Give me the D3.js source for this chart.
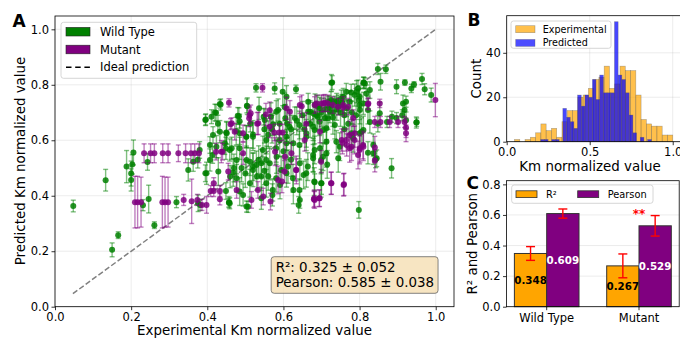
<!DOCTYPE html>
<html>
<head>
<meta charset="utf-8">
<script src="https://cdn.jsdelivr.net/npm/d3@7"></script>
<style>
  body { margin: 0; background: #fff; }
  svg, svg text { font-family: "DejaVu Sans", sans-serif; }
</style>
</head>
<body>
<svg id="fig" width="680" height="339"></svg>
<script>
// ---------- data ----------
// [experimental, predicted, error]
const wildType = [
  [0.048,0.363,0.021],[0.133,0.456,0.039],[0.150,0.205,0.025],[0.166,0.258,0.012],[0.188,0.505,0.058],
  [0.200,0.480,0.045],[0.200,0.457,0.040],[0.203,0.513,0.035],[0.206,0.556,0.045],[0.231,0.366,0.020],
  [0.243,0.522,0.030],[0.246,0.388,0.050],[0.261,0.294,0.012],[0.319,0.377,0.020],[0.350,0.493,0.040],
  [0.363,0.523,0.035],[0.376,0.373,0.030],[0.380,0.565,0.030],[0.375,0.530,0.030],
  [0.395,0.673,0.020],[0.411,0.685,0.025],[0.420,0.700,0.030],[0.428,0.660,0.030],[0.435,0.729,0.020],
  [0.480,0.688,0.030],[0.485,0.669,0.025],[0.504,0.724,0.025],[0.536,0.715,0.040],[0.513,0.660,0.030],
  [0.520,0.621,0.050],[0.548,0.685,0.030],[0.567,0.685,0.050],[0.581,0.703,0.040],[0.603,0.720,0.050],
  [0.665,0.739,0.030],[0.665,0.703,0.040],[0.630,0.680,0.040],[0.616,0.649,0.060],[0.642,0.655,0.050],
  [0.415,0.619,0.030],[0.450,0.628,0.040],[0.476,0.633,0.050],[0.502,0.613,0.040],[0.528,0.789,0.015],
  [0.577,0.787,0.020],[0.598,0.775,0.050],[0.633,0.784,0.015],[0.728,0.808,0.025],[0.848,0.857,0.020],
  [0.869,0.856,0.015],[0.855,0.811,0.030],[0.811,0.808,0.020],[0.897,0.793,0.025],[0.919,0.808,0.010],
  [0.936,0.787,0.015],[0.943,0.801,0.010],[0.964,0.821,0.020],[0.971,0.784,0.020],[0.988,0.763,0.025],
  [0.827,0.781,0.030],[0.822,0.709,0.050],[0.796,0.787,0.030],[0.787,0.763,0.040],[0.778,0.772,0.030],
  [0.800,0.757,0.040],[0.914,0.733,0.030],[0.922,0.739,0.020],[0.918,0.709,0.025],[0.912,0.690,0.020],
  [0.922,0.672,0.030],[0.949,0.664,0.020],[0.897,0.680,0.020],[0.872,0.666,0.020],[0.848,0.660,0.030],
  [0.827,0.666,0.040],[0.765,0.775,0.030],[0.757,0.757,0.030],[0.774,0.739,0.040],[0.683,0.727,0.040],
  [0.696,0.715,0.040],[0.687,0.690,0.050],[0.709,0.680,0.050],[0.722,0.703,0.040],[0.740,0.739,0.030],
  [0.752,0.751,0.030],[0.791,0.690,0.060],[0.800,0.727,0.040],[0.805,0.631,0.050],[0.713,0.643,0.050],
  [0.678,0.649,0.050],[0.395,0.481,0.030],[0.449,0.417,0.030],[0.457,0.375,0.015],[0.414,0.547,0.030],
  [0.449,0.571,0.040],[0.464,0.571,0.040],[0.407,0.583,0.030],[0.429,0.487,0.050],[0.460,0.469,0.040],
  [0.468,0.484,0.050],[0.477,0.463,0.050],[0.485,0.415,0.050],[0.494,0.403,0.040],[0.507,0.360,0.020],
  [0.512,0.445,0.050],[0.520,0.493,0.060],[0.512,0.523,0.050],[0.529,0.511,0.050],[0.542,0.391,0.040],
  [0.555,0.445,0.050],[0.542,0.469,0.050],[0.564,0.517,0.060],[0.571,0.403,0.040],[0.581,0.463,0.050],
  [0.594,0.493,0.050],[0.612,0.505,0.060],[0.625,0.463,0.050],[0.640,0.367,0.030],[0.642,0.421,0.040],
  [0.653,0.475,0.050],[0.664,0.505,0.050],[0.681,0.451,0.050],[0.678,0.547,0.060],[0.485,0.571,0.040],
  [0.503,0.613,0.040],[0.546,0.565,0.050],[0.581,0.571,0.050],[0.608,0.589,0.050],[0.642,0.583,0.050],
  [0.660,0.625,0.050],[0.798,0.349,0.030],[0.884,0.499,0.035],[0.700,0.445,0.040],[0.682,0.449,0.030],
  [0.715,0.513,0.050],[0.822,0.555,0.040],[0.842,0.531,0.030],[0.704,0.541,0.050],[0.678,0.535,0.050],
  [0.696,0.571,0.050],[0.713,0.595,0.050],[0.739,0.595,0.040],[0.783,0.607,0.050],[0.800,0.625,0.050],
  [0.457,0.377,0.020],[0.503,0.361,0.020],[0.396,0.675,0.020],[0.433,0.731,0.015],[0.726,0.807,0.030],
  [0.810,0.807,0.020],[0.423,0.699,0.030],[0.483,0.687,0.030],[0.505,0.723,0.030],[0.551,0.673,0.040],
  [0.573,0.658,0.040],[0.605,0.679,0.050],[0.608,0.757,0.040],[0.586,0.709,0.040],[0.670,0.703,0.040],
  [0.678,0.697,0.040],[0.717,0.739,0.020],[0.726,0.727,0.020],[0.735,0.739,0.020],[0.744,0.733,0.030],
  [0.766,0.715,0.030],[0.690,0.685,0.050],[0.695,0.667,0.050],[0.682,0.637,0.050],[0.704,0.637,0.050],
  [0.717,0.679,0.040],[0.735,0.655,0.050],[0.799,0.745,0.040],[0.810,0.733,0.040],[0.801,0.709,0.050],
  [0.814,0.805,0.020],[0.818,0.769,0.030],[0.792,0.775,0.040],[0.836,0.583,0.040],[0.845,0.535,0.030],
  [0.836,0.553,0.040],[0.853,0.697,0.040],[0.682,0.565,0.050],[0.699,0.529,0.050],[0.713,0.553,0.050],
  [0.643,0.517,0.060],[0.660,0.481,0.050],[0.608,0.481,0.050],[0.582,0.541,0.060],[0.555,0.529,0.050],
  [0.542,0.517,0.050],[0.520,0.505,0.050],[0.503,0.529,0.050],[0.477,0.529,0.050],[0.459,0.565,0.040],
  [0.446,0.589,0.040],[0.424,0.577,0.040],[0.407,0.529,0.040],[0.398,0.481,0.040],[0.381,0.367,0.020],
  [0.459,0.373,0.020],[0.572,0.421,0.040],[0.591,0.439,0.050],[0.626,0.421,0.050],[0.643,0.385,0.030],
  [0.699,0.445,0.050],[0.744,0.535,0.050],[0.748,0.577,0.050],[0.779,0.625,0.050],[0.810,0.637,0.050],
  [0.608,0.613,0.050],[0.626,0.589,0.050],[0.660,0.613,0.050],[0.555,0.601,0.050],[0.520,0.613,0.050],
  [0.485,0.625,0.040],[0.451,0.625,0.040],[0.433,0.631,0.040],[0.885,0.685,0.020],[0.950,0.665,0.015],
  [0.720,0.720,0.040],[0.730,0.700,0.050],[0.740,0.712,0.040],[0.750,0.700,0.050],[0.710,0.712,0.040],
  [0.700,0.700,0.050],[0.690,0.722,0.040],[0.760,0.690,0.050],[0.730,0.682,0.060],[0.745,0.722,0.030],
  [0.725,0.745,0.030],[0.755,0.735,0.030],[0.610,0.660,0.050],[0.620,0.640,0.050],[0.635,0.670,0.050],
  [0.590,0.660,0.050],[0.570,0.640,0.050],[0.560,0.620,0.050],[0.550,0.640,0.050],[0.530,0.470,0.050],
  [0.535,0.530,0.050],[0.550,0.490,0.050],[0.560,0.470,0.050],[0.500,0.480,0.050],[0.490,0.500,0.050],
  [0.470,0.500,0.050],[0.650,0.690,0.050],[0.655,0.640,0.050],[0.670,0.660,0.050],[0.770,0.660,0.050],
  [0.780,0.700,0.040],[0.760,0.640,0.060],[0.590,0.600,0.060],[0.600,0.560,0.060],[0.620,0.530,0.060]
];
const mutant = [
  [0.234,0.553,0.034],[0.251,0.553,0.034],[0.261,0.553,0.034],[0.283,0.553,0.034],[0.297,0.553,0.034],
  [0.324,0.553,0.030],[0.343,0.553,0.034],[0.357,0.553,0.034],[0.367,0.553,0.034],[0.378,0.553,0.034],
  [0.210,0.377,0.093],[0.217,0.377,0.093],[0.226,0.377,0.090],[0.282,0.377,0.093],[0.289,0.377,0.090],
  [0.297,0.377,0.090],[0.338,0.385,0.020],[0.359,0.380,0.080],[0.374,0.385,0.020],[0.386,0.367,0.020],
  [0.545,0.789,0.015],[0.457,0.735,0.015],[0.461,0.658,0.020],[0.511,0.690,0.030],[0.531,0.660,0.040],
  [0.554,0.693,0.040],[0.564,0.708,0.030],[0.608,0.715,0.040],[0.643,0.727,0.030],[0.682,0.727,0.030],
  [0.589,0.628,0.030],[0.576,0.628,0.030],[0.598,0.628,0.030],[0.660,0.660,0.040],[0.999,0.745,0.060],
  [0.822,0.730,0.020],[0.853,0.733,0.015],[0.840,0.666,0.020],[0.855,0.666,0.020],[0.879,0.666,0.020],
  [0.901,0.666,0.020],[0.918,0.666,0.020],[0.922,0.645,0.035],[0.783,0.680,0.030],[0.705,0.733,0.030],
  [0.717,0.733,0.030],[0.730,0.727,0.030],[0.743,0.721,0.030],[0.757,0.717,0.030],[0.770,0.721,0.030],
  [0.787,0.625,0.050],[0.774,0.619,0.050],[0.696,0.631,0.040],[0.398,0.367,0.030],[0.409,0.417,0.020],
  [0.417,0.417,0.020],[0.433,0.417,0.020],[0.433,0.387,0.020],[0.417,0.445,0.020],[0.423,0.559,0.030],
  [0.440,0.559,0.030],[0.455,0.487,0.030],[0.477,0.421,0.030],[0.516,0.385,0.030],[0.533,0.421,0.030],
  [0.566,0.379,0.030],[0.586,0.457,0.050],[0.603,0.487,0.040],[0.633,0.493,0.040],[0.681,0.391,0.030],
  [0.494,0.625,0.030],[0.621,0.553,0.040],[0.656,0.601,0.040],[0.759,0.441,0.040],[0.725,0.445,0.040],
  [0.694,0.391,0.030],[0.680,0.387,0.030],[0.840,0.574,0.040],[0.840,0.526,0.040],[0.796,0.547,0.050],
  [0.800,0.565,0.050],[0.774,0.571,0.050],[0.755,0.591,0.040],[0.765,0.601,0.040],[0.787,0.601,0.050],
  [0.809,0.583,0.050],[0.922,0.625,0.030],[0.464,0.661,0.020],[0.514,0.697,0.030],[0.510,0.679,0.030],
  [0.534,0.661,0.040],[0.564,0.649,0.040],[0.617,0.703,0.040],[0.648,0.723,0.040],[0.687,0.733,0.030],
  [0.700,0.733,0.030],[0.709,0.735,0.030],[0.757,0.727,0.030],[0.753,0.601,0.040],[0.766,0.583,0.040],
  [0.779,0.577,0.050],[0.823,0.733,0.020],[0.801,0.571,0.050],[0.810,0.577,0.050],[0.699,0.523,0.040],
  [0.634,0.493,0.050],[0.604,0.541,0.050],[0.578,0.559,0.050],[0.494,0.553,0.040],[0.437,0.559,0.040],
  [0.547,0.397,0.030],[0.596,0.451,0.040],[0.682,0.385,0.030],[0.695,0.391,0.030],[0.726,0.445,0.040],
  [0.758,0.439,0.040],[0.472,0.631,0.030]
];
const statsText = ["R²: 0.325 ± 0.052", "Pearson: 0.585 ± 0.038"];

// histogram (panel B): bin start, bin width, counts per bin
const expBinStart = 0.047, expBinWidth = 0.03177;
const expCounts = [1,0,1,2,4,8,5,6,2,9,14,14,20,21,24,28,29,34,24,26,34,32,32,21,10,8,7,7,3,3];
const predBinStart = 0.205, predBinWidth = 0.0222;
const predCounts = [1,1,0,1,1,0,15,11,9,6,21,16,21,20,28,19,30,22,22,22,54,30,28,22,12,4,0,2,0,1];

// panel C
const groups = ["Wild Type", "Mutant"];
const metrics = ["R²", "Pearson"];
const metricValues = { "Wild Type": [0.348, 0.609], "Mutant": [0.267, 0.529] };
const metricErrors = { "Wild Type": [0.045, 0.030], "Mutant": [0.078, 0.067] };
const signif = { "Mutant": "**" };

// ---------- helpers ----------
const svg = d3.select("#fig");
const fmt1 = d3.format(".1f");
const FONT = "DejaVu Sans, sans-serif";

function grid(g, xs, ys, xTicks, yTicks) {
  const [x0, x1] = xs.range(), [y0, y1] = ys.range();
  g.selectAll(".gx").data(xTicks).enter().append("line")
    .attr("x1", d => xs(d)).attr("x2", d => xs(d)).attr("y1", y0).attr("y2", y1)
    .style("stroke", "#b0b0b0").style("stroke-opacity", 0.3).style("stroke-width", 0.8);
  g.selectAll(".gy").data(yTicks).enter().append("line")
    .attr("y1", d => ys(d)).attr("y2", d => ys(d)).attr("x1", x0).attr("x2", x1)
    .style("stroke", "#b0b0b0").style("stroke-opacity", 0.3).style("stroke-width", 0.8);
}

function axes(g, xAxis, yAxis, xs, ys) {
  const [x0, x1] = xs.range(), [y0, y1] = ys.range();
  const gx = g.append("g").attr("transform", `translate(0,${y0})`).call(xAxis);
  const gy = g.append("g").attr("transform", `translate(${x0},0)`).call(yAxis);
  [gx, gy].forEach(a => {
    a.attr("font-family", FONT).attr("font-size", 11.5);
    a.select(".domain").remove();
    a.selectAll("text").style("font-family", FONT).style("font-size", "11.5px").style("fill", "#000");
    a.selectAll("line").style("stroke", "#000").style("stroke-width", 0.8);
  });
  g.append("rect").attr("x", x0).attr("y", y1).attr("width", x1 - x0).attr("height", y0 - y1)
    .style("fill", "none").style("stroke", "#000").style("stroke-width", 0.8);
}

function legendBox(g, x, y, w, h) {
  g.append("rect").attr("x", x).attr("y", y).attr("width", w).attr("height", h).attr("rx", 2.5)
    .style("fill", "#fff").style("fill-opacity", 0.8).style("stroke", "#cccccc").style("stroke-width", 0.8);
}

// ---------- panel A: scatter ----------
const xA = d3.scaleLinear().domain([0, 1.048]).range([55, 454]);
const yA = d3.scaleLinear().domain([0, 1.048]).range([306.7, 16]);
const ticksA = [0, 0.2, 0.4, 0.6, 0.8, 1.0];
const gA = svg.append("g");
grid(gA, xA, yA, ticksA, ticksA);

gA.append("line")
  .attr("x1", xA(0.047)).attr("y1", yA(0.047)).attr("x2", xA(1.0)).attr("y2", yA(1.0))
  .style("stroke", "gray").style("stroke-width", 1.5).style("stroke-dasharray", "5.5,2.4");

function drawSeries(data, color) {
  const s = gA.append("g");
  const eb = s.selectAll(".eb").data(data).enter().append("g")
    .style("stroke", color).style("stroke-opacity", 0.5).style("stroke-width", 1.4);
  eb.append("line").attr("x1", d => xA(d[0])).attr("x2", d => xA(d[0]))
    .attr("y1", d => yA(d[1] - d[2])).attr("y2", d => yA(d[1] + d[2]));
  eb.append("line").attr("x1", d => xA(d[0]) - 2.5).attr("x2", d => xA(d[0]) + 2.5)
    .attr("y1", d => yA(d[1] - d[2])).attr("y2", d => yA(d[1] - d[2]));
  eb.append("line").attr("x1", d => xA(d[0]) - 2.5).attr("x2", d => xA(d[0]) + 2.5)
    .attr("y1", d => yA(d[1] + d[2])).attr("y2", d => yA(d[1] + d[2]));
  s.selectAll("circle").data(data).enter().append("circle")
    .attr("cx", d => xA(d[0])).attr("cy", d => yA(d[1])).attr("r", 3)
    .style("fill", color).style("fill-opacity", 0.85);
}
drawSeries(wildType, "green");
drawSeries(mutant, "purple");

axes(gA,
  d3.axisBottom(xA).tickValues(ticksA).tickFormat(fmt1).tickSize(3.5).tickPadding(3),
  d3.axisLeft(yA).tickValues(ticksA).tickFormat(fmt1).tickSize(3.5).tickPadding(2.5),
  xA, yA);

gA.append("text").attr("x", 254.5).attr("y", 335).attr("text-anchor", "middle")
  .style("font-size", "13.4px").text("Experimental Km normalized value");
gA.append("text").attr("transform", "translate(25,161) rotate(-90)").attr("text-anchor", "middle")
  .style("font-size", "13.4px").text("Predicted Km normalized value");

// legend A
legendBox(gA, 61, 22.3, 135.7, 56);
[["Wild Type", "green"], ["Mutant", "purple"]].forEach(([lab, c], i) => {
  const cy = 31.7 + i * 17.8;
  gA.append("rect").attr("x", 66).attr("y", cy - 4.3).attr("width", 24).attr("height", 8.6)
    .style("fill", c).style("stroke", "#222").style("stroke-width", 0.6);
  gA.append("text").attr("x", 100).attr("y", cy + 4.1).style("font-size", "11.5px").text(lab);
});
gA.append("line").attr("x1", 66).attr("x2", 90).attr("y1", 67.3).attr("y2", 67.3)
  .style("stroke", "#000").style("stroke-width", 1.5).style("stroke-dasharray", "5.5,3.7");
gA.append("text").attr("x", 100).attr("y", 71.4).style("font-size", "11.5px").text("Ideal prediction");

// stats box
const statG = gA.append("g");
const statT = statG.selectAll("text").data(statsText).enter().append("text")
  .attr("y", (d, i) => 271.5 + i * 15.6).style("font-size", "13.4px").text(d => d);
const textW = d3.max(statT.nodes(), n => n.getComputedTextLength());
const textLeft = xA.range()[0] + 0.95 * (xA.range()[1] - xA.range()[0]) - textW;
statT.attr("x", textLeft);
statG.insert("rect", "text").attr("x", textLeft - 4.5).attr("y", 256.7)
  .attr("width", textW + 8.5).attr("height", 36.6).attr("rx", 3)
  .style("fill", "wheat").style("fill-opacity", 0.8).style("stroke", "#555").style("stroke-opacity", 0.8)
  .style("stroke-width", 0.9);

gA.append("text").attr("x", 12.5).attr("y", 27).style("font-size", "17px").style("font-weight", "bold").text("A");

// ---------- panel B: histogram ----------
const xB = d3.scaleLinear().domain([0, 1.048]).range([506.7, 680.7]);
const yB = d3.scaleLinear().domain([0, 56.7]).range([141.7, 15.7]);
const gB = svg.append("g");
grid(gB, xB, yB, [0, 0.5, 1.0], [0, 20, 40]);

function drawHist(counts, start, width, color, op) {
  gB.append("g").selectAll("rect").data(counts).enter().append("rect")
    .attr("x", (d, i) => xB(start + i * width))
    .attr("width", (d, i) => xB(start + (i + 1) * width) - xB(start + i * width))
    .attr("y", d => yB(d)).attr("height", d => yB(0) - yB(d))
    .style("fill", color).style("fill-opacity", op)
    .style("stroke", "#555").style("stroke-opacity", 0.45).style("stroke-width", 0.6);
}
drawHist(expCounts, expBinStart, expBinWidth, "orange", 0.7);
drawHist(predCounts, predBinStart, predBinWidth, "blue", 0.72);

axes(gB,
  d3.axisBottom(xB).tickValues([0, 0.5, 1.0]).tickFormat(fmt1).tickSize(3.5).tickPadding(3),
  d3.axisLeft(yB).tickValues([0, 20, 40]).tickFormat(d3.format("d")).tickSize(3.5).tickPadding(2.5),
  xB, yB);
gB.append("text").attr("x", 590).attr("y", 170.5).attr("text-anchor", "middle")
  .style("font-size", "13.4px").text("Km normalized value");
gB.append("text").attr("transform", "translate(481,78.7) rotate(-90)").attr("text-anchor", "middle")
  .style("font-size", "13.4px").text("Count");

legendBox(gB, 511, 21, 100, 27.3);
[["Experimental", "orange"], ["Predicted", "blue"]].forEach(([lab, c], i) => {
  const cy = 29.2 + i * 13.7;
  gB.append("rect").attr("x", 515.7).attr("y", cy - 3.5).attr("width", 19.3).attr("height", 7)
    .style("fill", c).style("fill-opacity", 0.7).style("stroke", "#555").style("stroke-opacity", 0.5).style("stroke-width", 0.6);
  gB.append("text").attr("x", 542.7).attr("y", cy + 3.5).style("font-size", "9.6px").text(lab);
});
gB.append("text").attr("x", 467.5).attr("y", 25.5).style("font-size", "17px").style("font-weight", "bold").text("B");

// ---------- panel C: grouped bars ----------
const xC = d3.scaleBand().domain(groups).range([506.5, 679.2]).paddingInner(0.3).paddingOuter(0.0855);
const xSub = d3.scaleBand().domain(metrics).range([0, xC.bandwidth()]);
const yC = d3.scaleLinear().domain([0, 0.824]).range([306.7, 180.7]);
const ticksC = [0, 0.2, 0.4, 0.6, 0.8];
const gC = svg.append("g");
grid(gC, d3.scaleLinear().range([506.5, 679.2]).domain([0, 1]), yC, [], ticksC);
const metricColors = ["orange", "purple"];
const labelColors = ["#000", "#fff"];

groups.forEach(grp => {
  metrics.forEach((m, j) => {
    const v = metricValues[grp][j], e = metricErrors[grp][j];
    const x0 = xC(grp) + xSub(m), w = xSub.bandwidth(), cx = x0 + w / 2;
    gC.append("rect").attr("x", x0).attr("y", yC(v)).attr("width", w).attr("height", yC(0) - yC(v))
      .style("fill", metricColors[j]).style("stroke", "#333").style("stroke-width", 1);
    const eg = gC.append("g").style("stroke", "red").style("stroke-width", 1.4);
    eg.append("line").attr("x1", cx).attr("x2", cx).attr("y1", yC(v - e)).attr("y2", yC(v + e));
    [v - e, v + e].forEach(t => eg.append("line").attr("x1", cx - 4.5).attr("x2", cx + 4.5)
      .attr("y1", yC(t)).attr("y2", yC(t)));
    gC.append("text").attr("x", cx).attr("y", yC(v / 2)).attr("dy", "0.36em").attr("text-anchor", "middle")
      .style("font-size", "10.3px").style("font-weight", "bold").style("fill", labelColors[j])
      .text(v.toFixed(3));
  });
  if (signif[grp]) {
    const topV = metricValues[grp][1] + metricErrors[grp][1];
    gC.append("text").attr("x", xC(grp) + xC.bandwidth() / 2).attr("y", yC(topV) + 2.5)
      .attr("text-anchor", "middle").style("font-size", "12px").style("font-weight", "bold")
      .style("fill", "red").text(signif[grp]);
  }
});

const xCaxis = d3.axisBottom(xC).tickSize(3.5).tickPadding(3.5);
axes(gC, xCaxis,
  d3.axisLeft(yC).tickValues(ticksC).tickFormat(fmt1).tickSize(3.5).tickPadding(2.5),
  d3.scaleLinear().range([506.5, 679.2]), yC);
gC.append("text").attr("transform", "translate(477,243.7) rotate(-90)").attr("text-anchor", "middle")
  .style("font-size", "13.4px").text("R² and Pearson");

legendBox(gC, 511.7, 185, 141.3, 18.3);
metrics.forEach((m, j) => {
  const lx = [516, 577.7][j];
  gC.append("rect").attr("x", lx).attr("y", 190.8).attr("width", 21).attr("height", 6.8)
    .style("fill", metricColors[j]).style("stroke", "#333").style("stroke-width", 0.8);
  gC.append("text").attr("x", lx + 30).attr("y", 197.7).style("font-size", "9.8px").text(m);
});
gC.append("text").attr("x", 466.5).attr("y", 188.5).style("font-size", "17px").style("font-weight", "bold").text("C");
</script>
</body>
</html>
